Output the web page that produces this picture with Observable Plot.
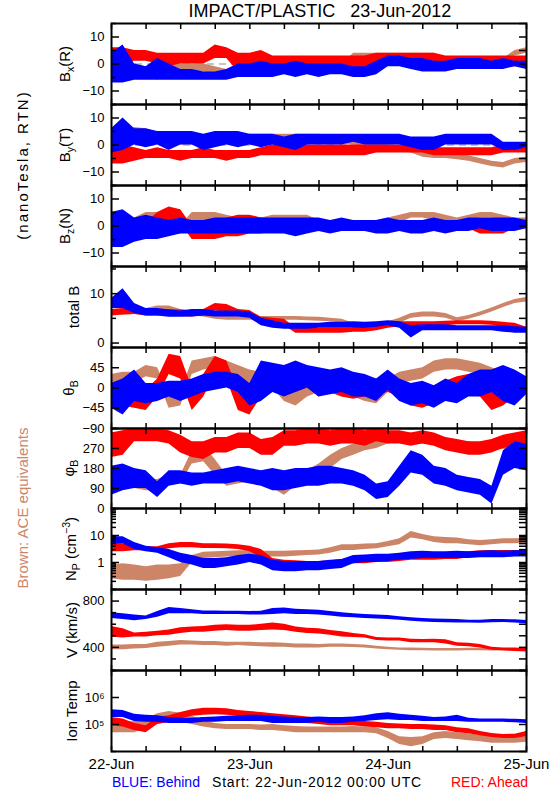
<!DOCTYPE html>
<html><head><meta charset="utf-8">
<script src="https://cdn.jsdelivr.net/npm/d3@7"></script>
<script src="https://cdn.jsdelivr.net/npm/@observablehq/plot@0.6"></script>
<style>
body{margin:0;background:#fff;}
#chart{position:relative;width:550px;height:800px;font-family:"Liberation Sans",Arial,sans-serif;color:#000;overflow:hidden;}
.t{position:absolute;white-space:pre;line-height:1;}
.rot{position:absolute;white-space:nowrap;line-height:1;transform:translate(-50%,-50%) rotate(-90deg);font-size:15px;}
sub,sup{font-size:70%;line-height:0;}
</style></head>
<body><div id="chart"></div>
<script>
// ---------- time axis ----------
const hours = [0,2,4,6,8,10,12,14,16,18,20,22,24,26,28,30,32,34,36,38,40,42,44,46,48,50,52,54,56,58,60,62,64,66,68,70,72];
const sixHourTicks = [0,6,12,18,24,30,36,42,48,54,60,66,72];
const dayTicks = [0,24,48,72];
const dayLabels = ["22-Jun","23-Jun","24-Jun","25-Jun"];

// ---------- Bx (R) ----------
const bxBehindLo = [-7,-7,-6,-6,-6,-6,-6,-6,-6,-6,-6,-5,-5,-5,-5,-4,-5,-4,-5,-4,-4,-5,-5,-4,-1,-1,-2,-3,-3,-3,-2,-2,-2,-2,-2,-1,-2];
const bxBehindHi = [4,7,0,-1,2,0,-2,-2,-3,-3,-2,0,0,1,0,0,1,0,0,0,0,-1,-1,1,3,3,2,2,1,1,2,2,2,1,2,1,1];
const bxAheadLo = [0,0,1,1,0,-1,0,0,0,2,2,-3,-2,0,-2,-2,-2,-2,-2,-2,-2,-2,-2,0,0,0,0,0,0,-1,-1,-1,-1,-1,-1,-1,-1];
const bxAheadHi = [6,6,5,5,4,4,4,4,4,7,6,4,4,5,3,3,3,3,3,3,3,3,3,4,4,4,4,4,4,3,3,3,3,3,3,3,3];
const bxAceLo = [-1,-1,-3,-4,-6,-4,-3,-3,-3,-4,-5,-3,-1,-2,-2,-2,-2,-2,-2,-2,-2,2,2,2,2,2,2,2,2,0,0,0,0,0,0,3,4];
const bxAceHi = [1,0,0,-1,-3,-1,0,0,0,-1,-2,0,1,0,0,0,0,0,0,0,0,4,4,4,4,4,4,4,4,2,2,2,2,2,2,5,6];

// ---------- By (T) ----------
const byBehindLo = [-3,-2,0,-1,0,-2,0,0,-2,-1,0,-1,0,-1,0,-1,-2,0,0,0,0,1,0,0,0,0,-1,-2,-2,0,0,0,0,0,-2,-2,-1];
const byBehindHi = [6,10,6,6,5,5,5,5,4,5,5,5,4,4,4,3,4,4,4,4,4,4,4,4,4,4,3,3,3,4,4,4,4,4,1,1,1];
const byAheadLo = [-7,-7,-6,-5,-5,-5,-6,-5,-5,-5,-6,-5,-5,-4,-4,-4,-4,-4,-4,-4,-4,-4,-4,-3,-3,-3,-3,-3,-4,-4,-4,-4,-4,-4,-3,-3,-3];
const byAheadHi = [1,0,-1,-2,-1,-2,-2,-2,-1,-2,-2,-2,-2,-1,0,0,0,0,0,0,0,0,0,0,0,0,0,0,-1,-1,-1,-1,-1,-1,0,0,0];
const byAceLo = [1,4,4,3.5,2,1,0,0,0,1,1.5,1,1.5,2,1.5,1.5,1.5,1.5,1.5,1,0.5,0,-0.5,-1,-2,-2.5,-3,-4.5,-5,-5,-5.5,-6,-7,-8,-8.5,-7,-6.5];
const byAceHi = [4,6.5,6.5,6,4.5,3.5,2.5,2.5,3,4,4,3.5,4,4,4,4,4,4,4,3.5,3,2,1.5,1,0,-0.5,-1,-2.5,-3,-3,-3.5,-4,-5,-6,-6.5,-5,-4.5];

// ---------- Bz (N) ----------
const bzBehindLo = [-8,-8,-6,-5,-5,-4,-3,-3,-3,-3,-3,-3,-3,-3,-3,-3,-4,-3,-2,-3,-2,-2,-2,-3,-3,-2,-3,-3,-2,-3,-2,-2,-1,-2,-2,-2,-1];
const bzBehindHi = [5,6,3,4,3,2,3,2,2,3,3,3,3,3,3,3,3,3,3,2,3,2,2,2,3,2,2,2,3,2,2,3,3,3,3,3,2];
const bzAheadLo = [-6,-5,-5,-5,0,2,1,-5,-5,-5,-4,-4,-3,-3,-2,-2,-2,-2,-2,-2,-2,-2,-2,-2,-2,-2,-2,-2,-2,-1,-1,-1,-3,-3,-3,-1,-1];
const bzAheadHi = [3,2,2,1,5,7,6,0,0,1,3,4,4,3,2,2,2,2,2,2,2,2,2,2,2,2,0,0,0,2,2,2,0,0,0,2,2];
const bzAceLo = [-3,-2,-2,2,2,-3,-3,2,2,2,1,0,0,1,2,2,2,2,0,-1,-1,-1,0,0,1,1,3,3,2,2,1,2,3,3,2,1,0];
const bzAceHi = [3,2,3,5,5,1,0,5,5,5,4,3,3,3,4,4,4,4,2,1,1,1,2,2,3,4,5,5,5,4,3,4,5,5,4,3,3];

// ---------- total B ----------
const btBehindLo = [7,7,6,5.5,5.5,5.2,5.2,5.3,5.5,5.3,5.3,5.3,5,3.5,3,2.8,2.8,2.8,3,3,3,3,3,3.2,3.5,3,1,2.5,2.5,2.5,2.5,2.5,2.5,2.5,2.2,2,2];
const btBehindHi = [9,11,8,7,7,6.7,6.5,6.8,6.8,6.5,6.5,6.5,6.3,5,4.5,4,4,4,4,4.2,4.2,4.3,4.2,4.3,4.5,4.3,3.5,3.7,3.7,3.7,3.5,3.5,3.5,3.5,3.5,3.3,3.2];
const btAheadLo = [5.5,5.7,5.8,5.5,5.5,5.5,5.4,5.3,5.5,6.5,6.3,5.6,5.5,4.2,4.2,3.5,2,2,2,2,2,2.2,2.2,2.5,3,3.3,3.3,3.3,3.4,3.5,3.7,3.7,3.7,3.6,3.3,3,2.5];
const btAheadHi = [6.8,7,7,6.8,6.7,6.8,6.7,6.5,6.8,8,7.8,6.8,6.6,5.2,5,4.8,3,3,3,3,3,3,3.2,3.5,4,4.3,4.3,4.3,4.3,4.4,4.5,4.5,4.5,4.4,4.2,4,3.2];
const btAceLo = [5.5,5.7,5.8,6,6.4,6.4,5.8,5.5,5.3,4.8,4.6,4.6,4.6,4.6,4.6,4.6,4.6,4.5,4.4,4.3,4,3,2.8,3,3.5,4,5,5.3,5.3,5,4.3,4.8,5.5,6.3,7.2,8,8.3];
const btAceHi = [6.5,6.7,6.8,7,7.5,7.5,6.8,6.5,6.3,5.6,5.4,5.4,5.4,5.4,5.4,5.4,5.4,5.3,5.2,5,4.8,4,3.6,4,4.3,5,6,6.3,6.3,6,5.1,5.6,6.3,7.1,8,8.8,9.2];

// ---------- theta B ----------
const thBehindLo = [-45,-60,-30,-35,-30,-20,-30,-20,-10,-5,0,-10,-40,-30,-10,-20,-10,0,-20,-15,-10,-20,-20,-30,-5,-30,-40,-35,-45,-30,-35,-20,-20,-10,-30,-40,-15];
const thBehindHi = [10,20,40,10,10,15,15,20,30,35,35,30,10,60,55,50,60,50,45,40,45,35,30,20,40,20,10,15,5,20,10,30,40,40,50,40,25];
const thAheadLo = [-30,-40,-45,-50,-20,30,20,-50,-20,30,20,-50,-60,-20,-10,0,-10,0,-20,-10,-20,-25,-20,-15,-10,-20,-40,-45,-35,-20,-10,-5,-20,-50,-40,-20,-10];
const thAheadHi = [10,5,0,-5,20,75,70,0,30,70,60,-5,-20,40,50,50,40,45,30,25,25,20,15,20,25,15,5,0,5,15,25,30,20,-10,0,30,25];
const thAceLo = [0,5,10,25,20,-45,-40,30,40,45,35,20,10,0,0,-30,-40,-20,-10,-10,-20,-20,-30,-35,-10,10,15,20,35,40,40,35,30,20,10,5,0];
const thAceHi = [30,35,35,50,45,-15,-10,60,65,70,60,50,40,35,30,0,-10,10,20,20,10,10,-5,-10,20,35,40,45,60,65,65,60,55,45,35,30,25];

// ---------- phi B ----------
const phBehindLo = [60,80,90,90,50,100,110,100,110,110,110,120,110,100,80,80,90,100,100,110,110,100,80,40,50,100,160,150,110,100,80,70,60,20,150,180,170];
const phBehindHi = [190,200,180,170,120,170,170,160,160,170,180,190,180,170,180,170,180,180,190,190,180,170,150,110,120,190,260,240,190,180,150,140,130,100,260,300,290];
const phAheadLo = [230,240,300,300,300,290,250,230,220,250,250,270,270,240,240,280,280,290,290,280,290,290,280,300,290,290,280,290,280,260,250,240,240,250,270,280,290];
const phAheadHi = [340,350,360,360,360,350,330,300,300,320,320,340,340,310,320,350,350,360,360,350,360,360,350,360,350,350,340,350,340,320,310,300,300,310,330,340,350];
const phAceLo = [100,100,90,80,80,110,110,200,210,150,100,110,120,110,90,60,100,120,150,180,220,240,260,270,290,300,300,290,285,280,275,270,262,262,265,262,258];
const phAceHi = [150,150,140,130,130,150,150,260,280,220,150,150,150,150,140,110,150,170,200,240,270,290,310,320,330,330,340,330,315,310,305,300,292,292,295,292,290];

// ---------- Np (cm^-3) ----------
const npBehindLo = [5,5,3,2.5,2.2,1.5,1,0.8,0.6,0.6,0.7,0.8,1,0.8,0.5,0.45,0.45,0.5,0.5,0.55,0.6,0.9,1,1,1.1,1.2,1.3,1.4,1.4,1.4,1.4,1.4,1.5,1.5,1.5,1.6,1.6];
const npBehindHi = [9,9,5.5,4,3.5,3,2.2,1.8,1.4,1.4,1.5,1.8,2,1.8,1.2,1.1,1.1,1.1,1.1,1.2,1.3,1.8,1.9,2,2,2.2,2.5,2.6,2.5,2.5,2.6,2.5,2.6,2.7,2.6,2.7,2.8];
const npAheadLo = [2.5,2.5,2.7,2.7,2.7,3.2,3.5,3.5,3.3,3.3,3.2,3,2.5,1.5,0.8,0.7,0.7,0.65,0.65,0.7,0.8,0.9,0.9,1,1,1.1,1.2,1.2,1.2,1.3,1.3,1.5,1.6,1.7,1.7,1.7,1.8];
const npAheadHi = [5.5,5,4,3.8,3.8,5,5.5,5.5,5,5,4.8,4.5,4,3,1.4,1.2,1.15,1.1,1.1,1.15,1.3,1.5,1.5,1.6,1.7,1.8,2,2,2,2,2.1,2.5,2.7,2.8,2.8,2.8,2.8];
const npAceLo = [0.25,0.22,0.22,0.2,0.22,0.25,0.3,1,1.4,1.5,1.6,1.7,1.8,1.7,1.6,1.6,1.7,1.8,1.9,2.2,2.8,2.8,3,3.2,3.8,4.5,8,7,5.5,5,5,4.5,4.2,4.5,5,5,5.2];
const npAceHi = [0.8,0.9,0.8,0.7,0.8,0.8,0.9,1.8,2.4,2.5,2.6,2.7,2.7,2.6,2.6,2.6,2.7,2.8,2.9,3.5,4.5,4.5,4.8,5,6,7.5,14,11,9,8.5,8,7,6.5,7,7.5,7.5,7.8];

// ---------- V (km/s) ----------
const vBehindLo = [650,640,630,640,660,690,690,690,685,685,685,685,680,680,685,690,685,685,680,670,660,655,650,645,640,635,625,620,615,612,610,610,608,612,615,610,605];
const vBehindHi = [700,690,680,670,710,745,735,725,715,715,712,712,710,712,735,740,730,725,720,710,700,690,685,680,675,665,655,650,645,642,640,635,635,640,640,638,632];
const vAheadLo = [490,480,490,490,500,505,520,530,530,540,545,540,540,545,550,545,530,520,515,505,490,485,480,460,455,455,440,440,440,430,410,405,395,375,370,365,360];
const vAheadHi = [580,560,525,530,540,550,570,575,580,590,595,590,590,600,610,600,575,565,560,545,535,520,510,485,480,480,470,468,470,465,440,435,425,400,395,395,390];
const vAceLo = [380,380,385,390,400,410,420,420,415,415,410,415,410,405,400,400,395,395,395,400,400,398,395,385,380,375,370,370,368,368,368,370,370,368,368,365,365];
const vAceHi = [420,420,425,425,445,450,460,455,450,450,445,445,445,440,440,435,430,430,425,430,430,425,420,410,400,395,395,392,390,390,390,392,392,390,390,388,388];

// ---------- Ion Temp (K) ----------
const tpBehindLo = [1.8e5,1.8e5,1.3e5,1.2e5,1.2e5,1.1e5,1.1e5,1.1e5,1.2e5,1.2e5,1.3e5,1.3e5,1.3e5,1.3e5,1.1e5,1.1e5,1.1e5,1.1e5,1.2e5,1.1e5,1.1e5,1.2e5,1.3e5,1.4e5,1.5e5,1.4e5,1.4e5,1.3e5,1.3e5,1.3e5,1.3e5,1.2e5,1.2e5,1.2e5,1.2e5,1.15e5,1.1e5];
const tpBehindHi = [3.5e5,3.3e5,2.4e5,2.2e5,2.1e5,1.8e5,1.7e5,1.7e5,1.8e5,1.9e5,2e5,2.1e5,2.2e5,2.2e5,2e5,1.9e5,1.8e5,1.8e5,1.9e5,1.8e5,1.8e5,1.9e5,2.1e5,2.5e5,2.7e5,2.4e5,2.2e5,2e5,1.8e5,1.9e5,2.2e5,1.7e5,1.6e5,1.6e5,1.6e5,1.55e5,1.5e5];
const tpAheadLo = [9e4,8e4,6e4,5e4,1e5,1.2e5,1.6e5,2e5,2.2e5,2.3e5,2.2e5,2e5,1.8e5,1.6e5,1.3e5,1.2e5,1.2e5,1.1e5,1e5,9e4,9e4,9e4,8e4,7.5e4,7e4,7e4,6.5e4,6.5e4,6e4,6e4,5e4,4.5e4,3.8e4,3.3e4,3e4,3e4,3.5e4];
const tpAheadHi = [1.8e5,1.6e5,1.1e5,9e4,1.8e5,2.1e5,2.8e5,3.5e5,4e5,4e5,3.8e5,3.3e5,3e5,2.8e5,2.5e5,2.3e5,2.1e5,1.9e5,1.7e5,1.6e5,1.5e5,1.4e5,1.3e5,1.2e5,1.1e5,1.05e5,1e5,1e5,9.5e4,9e4,7.5e4,7e4,5.5e4,4.6e4,4.3e4,4.4e4,5.5e4];
const tpAceLo = [5e4,5e4,5e4,7e4,1e5,1.2e5,1.2e5,1e5,8e4,7e4,6.5e4,6.5e4,6.5e4,6e4,6e4,5.5e4,5e4,5e4,5e4,5e4,5e4,5e4,5e4,4.5e4,3e4,1.8e4,1.5e4,1.8e4,2.8e4,3e4,2.8e4,2.5e4,2.3e4,2e4,2e4,2e4,2.2e4];
const tpAceHi = [1.2e5,1.2e5,1.3e5,1.6e5,2.5e5,3e5,2.6e5,2e5,1.4e5,1.1e5,1e5,1e5,1e5,9.5e4,1e5,9e4,8.5e4,8e4,8e4,8e4,8e4,8.5e4,8e4,7.5e4,5.5e4,3.5e4,3.3e4,3.5e4,5e4,5.5e4,5e4,4.5e4,4e4,3.5e4,3.3e4,3.5e4,3.5e4];

// ---------- y ticks and labels ----------
const bMajor = [-10,0,10], bMinor = [-15,-5,5,15], bLabels = ["−10","0","10"];
const btMajor = [0,10], btMinor = [5,15], btLabels = ["0","10"];
const thMajor = [-90,-45,0,45], thMinor = [90], thLabels = ["−90","−45","0","45"];
const phMajor = [0,90,180,270], phMinor = [360], phLabels = ["0","90","180","270"];
const npMajor = [1,10], npMinor = [0.1,0.2,0.3,0.4,0.5,0.6,0.7,0.8,0.9,2,3,4,5,6,7,8,9,20,30,40,50,60,70,80,90,100], npLabels = ["1","10"];
const vMajor = [400,800], vMinor = [200,300,500,600,700,900], vLabels = ["400","800"];
const tpMajor = [1e5,1e6], tpMinor = [1e4,1e7], tpLabels = ["10⁵","10⁶"];

const behindColor = "#0000ff", aheadColor = "#ff0000", aceColor = "rgb(205,133,104)";

const panels = [
  {label:"B<sub>x</sub>(R)", lx:64, type:"linear", domain:[-15,15], major:bMajor, minor:bMinor, labels:bLabels, zero:true,
   series:[[bxAceLo,bxAceHi],[bxAheadLo,bxAheadHi],[bxBehindLo,bxBehindHi]]},
  {label:"B<sub>y</sub>(T)", lx:64, type:"linear", domain:[-15,15], major:bMajor, minor:bMinor, labels:bLabels, zero:true,
   series:[[byAceLo,byAceHi],[byAheadLo,byAheadHi],[byBehindLo,byBehindHi]]},
  {label:"B<sub>z</sub>(N)", lx:64, type:"linear", domain:[-15,15], major:bMajor, minor:bMinor, labels:bLabels, zero:true,
   series:[[bzAceLo,bzAceHi],[bzAheadLo,bzAheadHi],[bzBehindLo,bzBehindHi]]},
  {label:"total B", lx:73, type:"linear", domain:[-0.9,15.5], major:btMajor, minor:btMinor, labels:btLabels,
   series:[[btAceLo,btAceHi],[btAheadLo,btAheadHi],[btBehindLo,btBehindHi]]},
  {label:"θ<sub>B</sub>", lx:68, type:"linear", domain:[-90,90], major:thMajor, minor:thMinor, labels:thLabels,
   series:[[thAceLo,thAceHi],[thAheadLo,thAheadHi],[thBehindLo,thBehindHi]]},
  {label:"φ<sub>B</sub>", lx:68, type:"linear", domain:[0,360], major:phMajor, minor:phMinor, labels:phLabels,
   series:[[phAceLo,phAceHi],[phAheadLo,phAheadHi],[phBehindLo,phBehindHi]]},
  {label:"N<sub>P</sub> (cm<sup>−3</sup>)", lx:70, type:"log", domain:[0.1,100], major:npMajor, minor:npMinor, labels:npLabels,
   series:[[npAceLo,npAceHi],[npAheadLo,npAheadHi],[npBehindLo,npBehindHi]]},
  {label:"V (km/s)", lx:71, type:"linear", domain:[200,900], major:vMajor, minor:vMinor, labels:vLabels,
   series:[[vAceLo,vAceHi],[vAheadLo,vAheadHi],[vBehindLo,vBehindHi]]},
  {label:"Ion Temp", lx:71, type:"log", domain:[1e4,1e7], major:tpMajor, minor:tpMinor, labels:tpLabels,
   series:[[tpAceLo,tpAceHi],[tpAheadLo,tpAheadHi],[tpBehindLo,tpBehindHi]]}
];
const seriesColors = [aceColor, aheadColor, behindColor];

// ---------- build ----------
const chart = document.getElementById("chart");
const startUTC = Date.UTC(2012, 5, 22, 0, 0);
const toDate = h => new Date(startUTC + h * 3600000);
const xDomain = [toDate(hours[0]), toDate(hours[hours.length - 1])];
const sixDates = sixHourTicks.map(toDate);
const dayDates = dayTicks.map(toDate);
const plotTop = 23, plotStep = 80.9, pad = 10;

panels.forEach((p, i) => {
  const top = Math.round(plotTop + i * plotStep);
  const bottom = Math.round(plotTop + (i + 1) * plotStep);
  const h = bottom - top;
  const last = i === panels.length - 1;
  const marks = [];
  if (p.zero) marks.push(Plot.ruleY([0], {stroke: "#8a8a8a", strokeWidth: 1, strokeDasharray: "7,5"}));
  p.series.forEach(([lo, hi], k) => {
    const rows = hours.map((hh, j) => ({t: toDate(hh), lo: lo[j], hi: hi[j]}));
    marks.push(Plot.areaY(rows, {x: "t", y1: "lo", y2: "hi", fill: seriesColors[k], clip: true}));
  });
  const fmt = d => { const j = p.major.indexOf(d); return j >= 0 ? p.labels[j] : ""; };
  marks.push(Plot.axisY(p.major, {anchor: "left", tickSize: -8, tickPadding: 15, tickFormat: fmt, label: null, fontSize: 13, strokeWidth: 1.5}));
  marks.push(Plot.axisY(p.minor, {anchor: "left", tickSize: -5, tickFormat: () => "", label: null, strokeWidth: 1.5}));
  marks.push(Plot.axisY(p.major.concat(p.minor), {anchor: "right", tickSize: -8, tickFormat: () => "", label: null, strokeWidth: 1.5}));
  marks.push(Plot.axisX(sixDates, {anchor: "bottom", tickSize: -5, tickFormat: () => "", label: null, strokeWidth: 1.5}));
  marks.push(Plot.axisX(sixDates, {anchor: "top", tickSize: -5, tickFormat: () => "", label: null, strokeWidth: 1.5}));
  if (last) {
    marks.push(Plot.axisX(dayDates, {anchor: "bottom", tickSize: 0, tickPadding: 7, label: null, fontSize: 15,
      tickFormat: d => dayLabels[dayDates.findIndex(x => +x === +d)]}));
  }
  marks.push(Plot.frame({stroke: "#000", strokeWidth: 2}));
  const svg = Plot.plot({
    width: 550, height: h + 2 * pad,
    marginLeft: 111, marginRight: 24, marginTop: pad, marginBottom: pad,
    x: {type: "utc", domain: xDomain},
    y: {type: p.type, domain: p.domain},
    style: {background: "transparent", overflow: "visible", fontFamily: "Liberation Sans, Arial, sans-serif", fontSize: "13px", color: "#000"},
    marks
  });
  svg.style.position = "absolute";
  svg.style.left = "0px";
  svg.style.top = (top - pad) + "px";
  chart.appendChild(svg);

  const lab = document.createElement("div");
  lab.className = "rot";
  lab.innerHTML = p.label;
  lab.style.left = p.lx + "px";
  lab.style.top = ((top + bottom) / 2) + "px";
  chart.appendChild(lab);
});

function addText(txt, css) {
  const d = document.createElement("div");
  d.className = "t";
  d.textContent = txt;
  Object.assign(d.style, css);
  chart.appendChild(d);
  return d;
}
addText("IMPACT/PLASTIC   23-Jun-2012", {left: "320px", top: "11px", transform: "translate(-50%,-50%)", fontSize: "18px"});
addText("BLUE: Behind", {left: "112px", top: "782px", transform: "translateY(-50%)", fontSize: "14px", color: behindColor});
addText("Start: 22-Jun-2012 00:00 UTC", {left: "212px", top: "782px", transform: "translateY(-50%)", fontSize: "14px", letterSpacing: "0.8px"});
addText("RED: Ahead", {left: "451px", top: "782px", transform: "translateY(-50%)", fontSize: "14px", color: aheadColor});

const side1 = document.createElement("div");
side1.className = "rot";
side1.textContent = "(nanoTesla, RTN)";
Object.assign(side1.style, {left: "22px", top: "165px", letterSpacing: "2px"});
chart.appendChild(side1);
const side2 = document.createElement("div");
side2.className = "rot";
side2.textContent = "Brown: ACE equivalents";
Object.assign(side2.style, {left: "22px", top: "508px", color: aceColor});
chart.appendChild(side2);
</script>
</body></html>
